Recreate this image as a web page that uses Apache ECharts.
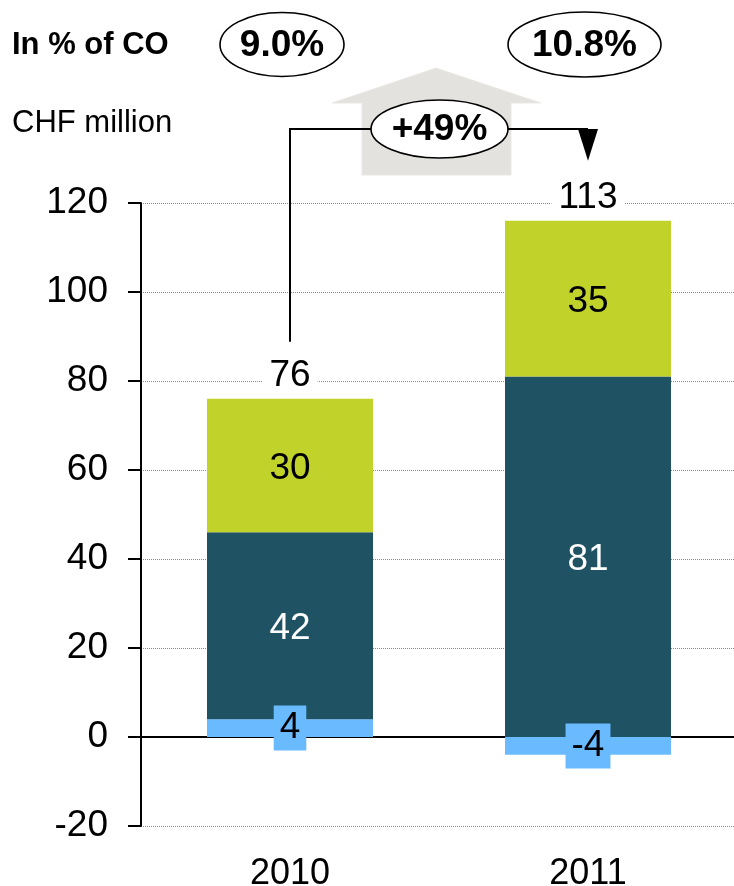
<!DOCTYPE html>
<html><head><meta charset="utf-8">
<script src="https://cdn.jsdelivr.net/npm/echarts@6/dist/echarts.min.js"></script>
<style>html,body{margin:0;padding:0;background:#fff}#c{width:734px;height:886px}</style>
</head><body><div id="c"></div>
<script>
// ---- data ----
const categories = ['2010', '2011'];
const baseValues = [4, -4];      // light blue segment
const midValues = [42, 81];      // dark teal segment
const topValues = [30, 35];      // lime segment
const totals = [76, 113];        // total labels
const pctOfCO = ['9.0%', '10.8%'];
const growthLabel = '+49%';
const yMin = -20, yMax = 120, yInterval = 20;

const FONT = '"Liberation Sans", Arial, sans-serif';
const C_BASE = '#69BAFF', C_MID = '#1F5364', C_TOP = '#C1D22B';

const stackTops = categories.map((c, i) =>
  [baseValues[i], midValues[i], topValues[i]].filter(v => v > 0).reduce((a, b) => a + b, 0));

const chart = echarts.init(document.getElementById('c'), null, { renderer: 'canvas' });

const segLabel = (color, bg) => ({
  show: true, position: 'inside', fontSize: 37, color: color, fontFamily: FONT,
  backgroundColor: bg || 'transparent', padding: bg ? [4, 6] : 0, lineHeight: 37,
  offset: bg ? [0, 0] : [0, 3]
});

chart.setOption({
  animation: false,
  grid: { left: 141, top: 203, right: -3, bottom: 60, outerBoundsMode: 'none', containLabel: false },
  xAxis: {
    type: 'category', data: categories,
    axisLine: { show: false }, axisTick: { show: false },
    axisLabel: { fontSize: 36, color: '#000', fontFamily: FONT, margin: 30 },
    splitLine: { show: false }
  },
  yAxis: {
    type: 'value', min: yMin, max: yMax, interval: yInterval,
    axisLine: { show: true, lineStyle: { color: '#000', width: 2 } },
    axisTick: { show: true, length: 13, lineStyle: { color: '#000', width: 2 } },
    axisLabel: { fontSize: 37, color: '#000', fontFamily: FONT, margin: 33 },
    splitLine: { show: true, lineStyle: { color: '#8c8c8c', type: [1, 1], width: 1 } }
  },
  series: [
    {
      name: 'Base', type: 'bar', stack: 'total', barWidth: 166, data: baseValues,
      itemStyle: { color: C_BASE }, label: segLabel('#000', C_BASE),
      markLine: {
        silent: true, symbol: 'none', label: { show: false },
        lineStyle: { color: '#000', width: 2, type: 'solid' },
        data: [{ yAxis: 0 }], z: 2
      }
    },
    {
      name: 'Mid', type: 'bar', stack: 'total', barWidth: 166, data: midValues,
      itemStyle: { color: C_MID }, label: segLabel('#fff')
    },
    {
      name: 'Top', type: 'bar', stack: 'total', barWidth: 166, data: topValues,
      itemStyle: { color: C_TOP }, label: segLabel('#000')
    },
    {
      name: 'Total', type: 'scatter', symbolSize: 0, data: stackTops, z: 5,
      itemStyle: { opacity: 1, color: '#000' },
      label: {
        show: true, position: 'top', distance: 5, opacity: 1,
        formatter: p => String(totals[p.dataIndex]),
        fontSize: 37, color: '#000', fontFamily: FONT,
        backgroundColor: '#fff', padding: [0, 7], lineHeight: 37
      }
    }
  ]
});

// ---- annotations ----
const x0 = chart.convertToPixel({ xAxisIndex: 0 }, categories[0]);
const x1 = chart.convertToPixel({ xAxisIndex: 0 }, categories[1]);
const t0 = chart.convertToPixel({ yAxisIndex: 0 }, stackTops[0]);
const t1 = chart.convertToPixel({ yAxisIndex: 0 }, stackTops[1]);
const xm = (x0 + x1) / 2;
const cy = 129;

const oval = (cx, cyy, rx, ry, text, fs) => ({
  type: 'group', children: [
    { type: 'ellipse', shape: { cx: cx, cy: cyy, rx: rx, ry: ry },
      style: { fill: '#fff', stroke: '#000', lineWidth: 1.6 }, z: 20 },
    { type: 'text', x: cx, y: cyy + 1, z: 21,
      style: { text: text, font: 'bold ' + fs + 'px ' + FONT, fill: '#000', align: 'center', verticalAlign: 'middle' } }
  ]
});

chart.setOption({
  graphic: [
    { type: 'text', x: 12, y: 45, z: 20,
      style: { text: 'In % of CO', font: 'bold 31px ' + FONT, fill: '#000', verticalAlign: 'middle' } },
    { type: 'text', x: 12, y: 123, z: 20,
      style: { text: 'CHF million', font: '31px ' + FONT, fill: '#000', verticalAlign: 'middle' } },
    oval(x0 - 8, 44.5, 62, 32, pctOfCO[0], 37),
    oval(x1 - 3.5, 44.5, 76.5, 32.5, pctOfCO[1], 37),
    { type: 'polygon', z: 10,
      shape: { points: [[xm - 3, 68], [xm + 102, 103], [xm + 72, 103], [xm + 72, 175], [xm - 77, 175], [xm - 77, 103], [xm - 107, 103]] },
      style: { fill: '#E4E2DE', stroke: '#EBE9E6', lineWidth: 1 } },
    { type: 'polyline', z: 15,
      shape: { points: [[x0, t0 - 57], [x0, cy], [x1, cy]] },
      style: { stroke: '#000', lineWidth: 2, fill: null } },
    { type: 'polygon', z: 15,
      shape: { points: [[x1 - 10, cy], [x1 + 10, cy], [x1, t1 - 60]] },
      style: { fill: '#000' } },
    oval(xm + 0.5, 129, 68.5, 29, growthLabel, 37)
  ]
});
</script>
</body></html>
